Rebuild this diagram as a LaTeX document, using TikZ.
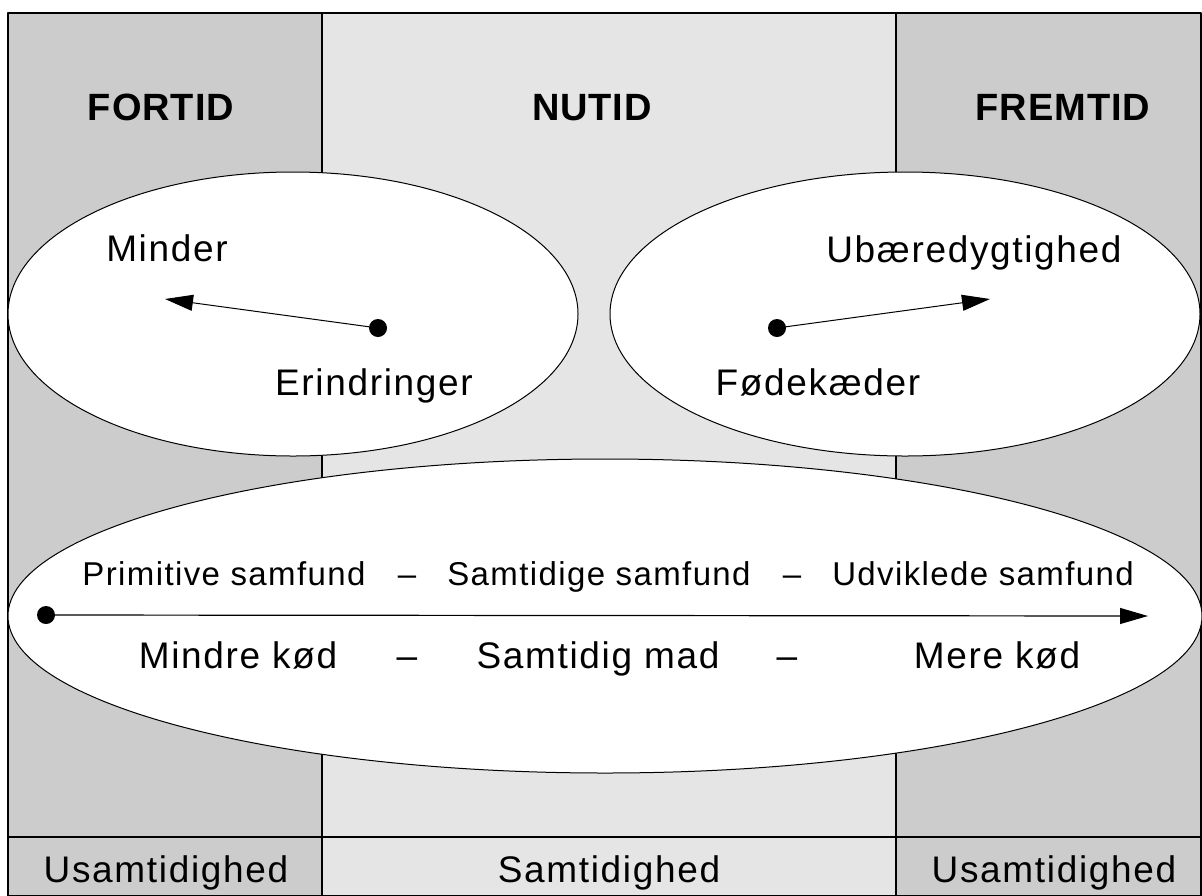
\documentclass[tikz,border=0pt]{standalone}
\usepackage{fontspec}
\setmainfont{Liberation Sans}
\usepackage{tikz}
\usetikzlibrary{arrows.meta}

\definecolor{sidegray}{RGB}{204,204,204}
\definecolor{midgray}{RGB}{229,229,229}

\begin{document}
\begin{tikzpicture}[line cap=round,line join=round,x=1pt,y=-1pt,
  >={Triangle[length=28pt,width=16pt]},
  rule/.style={line width=1.3pt},
  oval/.style={draw,fill=white,line width=1pt},
  dot/.style={circle,fill=black,inner sep=0pt,minimum size=18pt},
  head/.style={anchor=base,inner sep=0pt,font=\fontsize{38}{40}\selectfont\bfseries\addfontfeatures{LetterSpace=2.5}},
  lbl/.style={anchor=base,inner sep=0pt,font=\fontsize{37}{40}\selectfont\addfontfeatures{LetterSpace=4.5}},
  sml/.style={anchor=base,inner sep=0pt,font=\fontsize{33}{36}\selectfont\addfontfeatures{LetterSpace=4.2}}]
            \useasboundingbox (0,0) rectangle (1202,895);
            \fill [sidegray] (8,13) rectangle (322,896);
            \fill [midgray] (322,13) rectangle (896,896);
            \fill [sidegray] (896,13) rectangle (1201,896);
            \draw [rule] (322,13)-- (322,896);
            \draw [rule] (896,13)-- (896,896);
            \draw [rule] (8,837)-- (1201,837);
            \draw [rule] (8,13) rectangle (1201,896);
            \draw [oval] (293,314) ellipse [x radius=285,y radius=142];
            \draw [oval] (905,314) ellipse [x radius=295,y radius=142];
            \draw [oval] (605,616) ellipse [x radius=597,y radius=157];
            \node [head] (fortid) at (161,120) {FORTID};
            \node [head] (nutid) at (592,120) {NUTID};
            \node [head] (fremtid) at (1063,120) {FREMTID};
            \node [lbl] (minder) at (167,261) {Minder};
            \node [lbl] (erindringer) at (374,395) {Erindringer};
            \node [lbl] (ubaeredygtighed) at (974,262) {Ubæredygtighed};
            \node [lbl] (foedekaeder) at (818,395) {Fødekæder};
            \node [sml] (primitive) at (224,585) {Primitive samfund};
            \node [sml] (dashA) at (407,585) {–};
            \node [sml] (samtidige) at (599,585) {Samtidige samfund};
            \node [sml] (dashB) at (792,585) {–};
            \node [sml] (udviklede) at (983,585) {Udviklede samfund};
            \node [lbl] (mindre) at (238,668) {Mindre kød};
            \node [lbl] (dashC) at (407,668) {–};
            \node [lbl] (samtidigmad) at (598,668) {Samtidig mad};
            \node [lbl] (dashD) at (787,668) {–};
            \node [lbl] (mere) at (997,668) {Mere kød};
            \node [lbl] (usamA) at (166,882) {Usamtidighed};
            \node [lbl] (samtidighed) at (609,882) {Samtidighed};
            \node [lbl] (usamB) at (1054,882) {Usamtidighed};
            \node [dot] (pastdot) at (378,328) {};
            \coordinate (pasttip) at (165,299);
            \node [dot] (futdot) at (777,328) {};
            \coordinate (futtip) at (990,299);
            \node [dot] (linedot) at (46,615) {};
            \coordinate (linetip) at (1148,616);
            \draw [->,line width=1pt] (pastdot)-- (pasttip);
            \draw [->,line width=1pt] (futdot)-- (futtip);
            \draw [->,line width=1.2pt] (linedot)-- (linetip);
\end{tikzpicture}
\end{document}
